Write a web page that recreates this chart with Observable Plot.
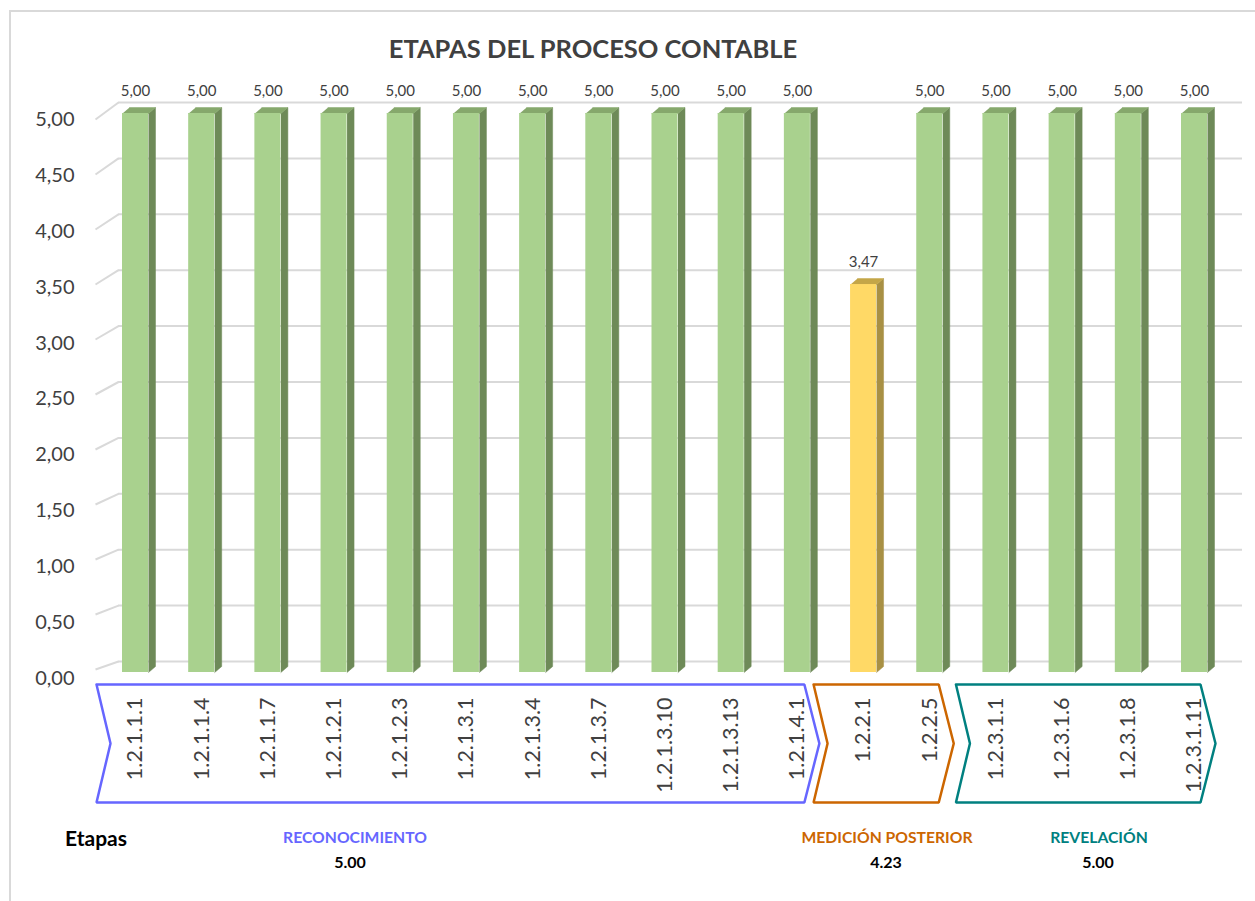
<!DOCTYPE html>
<html>
<head>
<meta charset="utf-8">
<script src="https://cdn.jsdelivr.net/npm/d3@7"></script>
<script src="https://cdn.jsdelivr.net/npm/@observablehq/plot@0.6"></script>
<style>
  html, body { margin: 0; padding: 0; background: #ffffff; }
  #wrap { position: relative; width: 1255px; height: 901px; overflow: hidden; font-family: Lato, "Open Sans", sans-serif; }
  #wrap svg { position: absolute; left: 0; top: 0; }
  .border-top { position: absolute; left: 10px; top: 10px; width: 1245px; height: 0; border-top: 2px solid #d9d9d9; }
  .border-left { position: absolute; left: 9px; top: 10px; width: 0; height: 891px; border-left: 2px solid #d9d9d9; }
  .title { position: absolute; left: 0; top: 33px; width: 1186px; text-align: center; font-weight: 700; font-size: 25.5px; color: #404040; z-index: 2; }
  .lbl { position: absolute; font-weight: 700; transform: translate(-50%, -50%); white-space: nowrap; z-index: 2; line-height: 1; }
</style>
</head>
<body>
<div id="wrap">
  <div class="border-top"></div>
  <div class="border-left"></div>
  <div class="title">ETAPAS DEL PROCESO CONTABLE</div>
</div>
<script>
// ---- data ----
const categories = ["1.2.1.1.1","1.2.1.1.4","1.2.1.1.7","1.2.1.2.1","1.2.1.2.3","1.2.1.3.1","1.2.1.3.4","1.2.1.3.7","1.2.1.3.10","1.2.1.3.13","1.2.1.4.1","1.2.2.1","1.2.2.5","1.2.3.1.1","1.2.3.1.6","1.2.3.1.8","1.2.3.1.11"];
const values = [5,5,5,5,5,5,5,5,5,5,5,3.47,5,5,5,5,5];
const yTicks = [0,0.5,1,1.5,2,2.5,3,3.5,4,4.5,5];
const stages = ["RECONOCIMIENTO","MEDICIÓN POSTERIOR","REVELACIÓN"];
const stageStart = [0,11,13];
const stageEnd = [10,12,16];
const stageScores = ["5.00","4.23","5.00"];
const stageLabel = "Etapas";

// ---- style / geometry ----
const stageColors = ["#6666ff","#cc6600","#008080"];
const greenFace = {front:"#a9d18e", side:"#6e8a58", top:"#86a86c"};
const yellowFace = {front:"#ffd966", side:"#a89044", top:"#c4a648"};
const fmt = d => d.toFixed(2).replace(".", ",");

const X = d3.scaleLinear([0,16],[135,1194]);
const Y = d3.scaleLinear([0,5],[672,113]);
const xu = px => px / (X(1) - X(0));          // px -> x data units
const yu = px => px / (Y(0) - Y(1));          // px -> y data units
const hw = xu(13), ox = xu(7), oy = yu(6);

const bars = categories.map((c,i) => ({i, c, v: values[i], face: values[i] >= 4 ? greenFace : yellowFace}));

const sides = [], tops = [];
bars.forEach(b => {
  const id = b.i;
  [[b.i+hw,0],[b.i+hw+ox,oy],[b.i+hw+ox,b.v+oy],[b.i+hw,b.v]].forEach(([x,y]) => sides.push({id, x, y, fill: b.face.side}));
  [[b.i-hw,b.v],[b.i+hw,b.v],[b.i+hw+ox,b.v+oy],[b.i-hw+ox,b.v+oy]].forEach(([x,y]) => tops.push({id, x, y, fill: b.face.top}));
});

// chevrons (pixel geometry around stage category ranges)
const leftPad = [39,50,40], rightPad = [7,9,6], tip = 15, notch = 14;
const cTop = 684, cBot = 802, cMid = 743;
const chevrons = [];
stages.forEach((s,k) => {
  const l = X(stageStart[k]) - leftPad[k];
  const r = X(stageEnd[k]) + rightPad[k];
  [[l,cTop],[r,cTop],[r+tip,cMid],[r,cBot],[l,cBot],[l+notch,cMid],[l,cTop]]
    .forEach(([px,py]) => chevrons.push({k, x: X.invert(px), y: Y.invert(py), stroke: stageColors[k]}));
});

const gridLeft = X.invert(118), gridRight = X.invert(1242), frontX = X.invert(95);

const chart = Plot.plot({
  width: 1255,
  height: 901,
  marginTop: 0, marginBottom: 0, marginLeft: 0, marginRight: 0,
  style: {fontFamily: "Lato, 'Open Sans', sans-serif", background: "transparent", overflow: "visible"},
  x: {type: "linear", domain: [0,16], range: [135,1194], axis: null},
  y: {type: "linear", domain: [0,5], range: [672,113], axis: null},
  marks: [
    // back-wall gridlines
    Plot.ruleY(yTicks, {y: d => d, x1: gridLeft, x2: gridRight, dy: -11, stroke: "#d9d9d9", strokeWidth: 2}),
    // floor/side slant of gridlines
    Plot.link(yTicks, {
      x1: frontX, y1: d => Y.invert(Y(d) - 3 + 1.8*d),
      x2: gridLeft, y2: d => Y.invert(Y(d) - 11),
      stroke: "#d9d9d9", strokeWidth: 2
    }),
    // bar side faces
    Plot.line(sides, {x: "x", y: "y", z: "id", fill: "fill", stroke: "fill", strokeWidth: 0.5}),
    // bar top faces
    Plot.line(tops, {x: "x", y: "y", z: "id", fill: "fill", stroke: "fill", strokeWidth: 0.5}),
    // bar front faces
    Plot.rect(bars, {x1: d => d.i - hw, x2: d => d.i + hw, y1: 0, y2: "v", fill: d => d.face.front}),
    // value labels
    Plot.text(bars, {x: "i", y: "v", dy: -22, text: d => fmt(d.v), fontSize: 15, fill: "#404040"}),
    // y tick labels
    Plot.text(yTicks, {x: X.invert(74), y: d => d, dy: 6, text: fmt, textAnchor: "end", fontSize: 20, fill: "#404040"}),
    // chevrons
    Plot.line(chevrons, {x: "x", y: "y", z: "k", stroke: "stroke", strokeWidth: 2.5, fill: "none", strokeLinejoin: "miter"}),
    // category labels
    Plot.text(bars, {x: "i", y: Y.invert(697), text: "c", rotate: -90, textAnchor: "end", fontSize: 21.5, fill: "#404040"})
  ]
});
const wrap = document.getElementById("wrap");
wrap.appendChild(chart);

// bottom stage legend
function addLabel(text, x, y, size, color) {
  const d = document.createElement("div");
  d.className = "lbl";
  d.textContent = text;
  d.style.left = x + "px";
  d.style.top = y + "px";
  d.style.fontSize = size + "px";
  d.style.color = color;
  wrap.appendChild(d);
}
addLabel(stageLabel, 96, 837, 21, "#000000");
const stageCenters = [355, 887, 1099];
const scoreCenters = [350, 886, 1098];
stages.forEach((s,k) => {
  addLabel(s, stageCenters[k], 838, 15.7, stageColors[k]);
  addLabel(stageScores[k], scoreCenters[k], 862, 16, "#000000");
});
</script>
</body>
</html>
